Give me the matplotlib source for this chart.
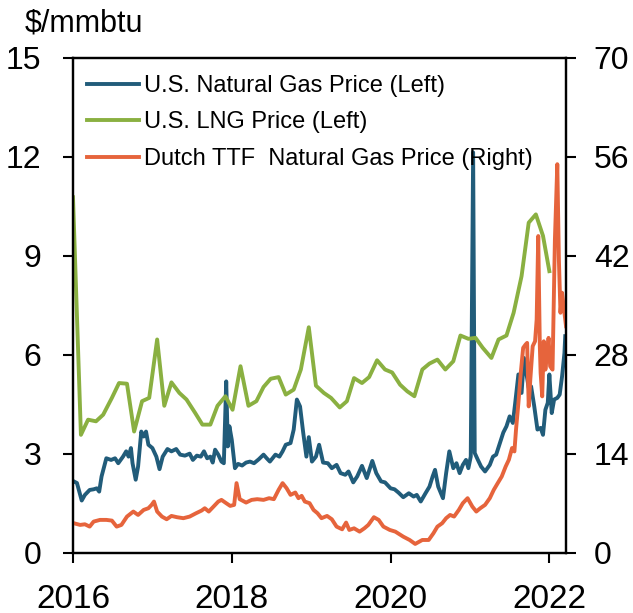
import matplotlib
matplotlib.use("Agg")
import matplotlib.pyplot as plt

# Yazı tipi: Arial benzeri
plt.rcParams['font.family'] = ['Liberation Sans Narrow', 'Liberation Sans', 'DejaVu Sans']

# -----------------------------------------
# Veriler (ondalık yıl, fiyat)
ng_years = [2016.01, 2016.05, 2016.11, 2016.15, 2016.21, 2016.26, 2016.30, 2016.33, 2016.36, 2016.42,
            2016.48, 2016.53, 2016.57, 2016.63, 2016.67, 2016.70, 2016.73, 2016.75, 2016.79, 2016.82,
            2016.86, 2016.89, 2016.92, 2016.95, 2017.00, 2017.05, 2017.09, 2017.13, 2017.19, 2017.24,
            2017.30, 2017.35, 2017.41, 2017.47, 2017.51, 2017.56, 2017.61, 2017.65, 2017.69, 2017.73,
            2017.76, 2017.79, 2017.83, 2017.87, 2017.90, 2017.93, 2017.95, 2017.97, 2018.00, 2018.04,
            2018.08, 2018.13, 2018.18, 2018.23, 2018.28, 2018.34, 2018.40, 2018.44, 2018.48, 2018.55,
            2018.60, 2018.64, 2018.68, 2018.74, 2018.78, 2018.82, 2018.86, 2018.90, 2018.94, 2018.97,
            2019.01, 2019.06, 2019.10, 2019.15, 2019.21, 2019.26, 2019.32, 2019.37, 2019.43, 2019.47,
            2019.53, 2019.58, 2019.64, 2019.70, 2019.77, 2019.82, 2019.88, 2019.93, 2020.00, 2020.05,
            2020.10, 2020.16, 2020.23, 2020.29, 2020.33, 2020.38, 2020.44, 2020.49, 2020.53, 2020.56,
            2020.60, 2020.66, 2020.70, 2020.74, 2020.79, 2020.83, 2020.87, 2020.91, 2020.95, 2020.98,
            2021.01, 2021.04, 2021.06, 2021.10, 2021.14, 2021.19, 2021.25, 2021.29, 2021.33, 2021.37,
            2021.42, 2021.46, 2021.50, 2021.54, 2021.57, 2021.61, 2021.65, 2021.68, 2021.71, 2021.74,
            2021.77, 2021.81, 2021.85, 2021.89, 2021.92, 2021.95, 2021.98, 2022.00, 2022.03, 2022.06,
            2022.10, 2022.13, 2022.16, 2022.19, 2022.20]
ng_price = [2.17, 2.12, 1.59, 1.76, 1.91, 1.93, 1.96, 1.86, 2.32, 2.87,
            2.82, 2.87, 2.72, 2.92, 3.08, 2.92, 3.18, 2.72, 2.22, 2.62,
            3.68, 3.53, 3.68, 3.28, 3.18, 2.92, 2.54, 2.92, 3.15, 3.08,
            3.15, 2.98, 2.95, 3.01, 2.82, 2.95, 2.92, 3.08, 2.87, 2.92,
            2.74, 3.13, 2.98, 2.77, 2.72, 5.20, 3.23, 3.84, 3.43, 2.57,
            2.70, 2.65, 2.74, 2.77, 2.72, 2.84, 2.98, 2.87, 2.77, 2.98,
            2.92, 3.08, 3.28, 3.33, 3.74, 4.65, 4.44, 3.64, 2.92, 3.51,
            2.77, 2.92, 3.28, 2.74, 2.72, 2.57, 2.67, 2.42, 2.37, 2.47,
            2.14, 2.32, 2.64, 2.27, 2.79, 2.42, 2.17, 2.14, 1.96, 1.93,
            1.83, 1.69, 1.81, 1.71, 1.76, 1.56, 1.81, 2.01, 2.32, 2.52,
            2.01, 1.66, 2.42, 3.08, 2.57, 2.72, 2.42, 2.67, 2.82, 2.57,
            2.92, 12.14, 3.03, 2.82, 2.62, 2.47, 2.67, 2.92, 2.98, 3.28,
            3.65, 3.84, 4.14, 3.94, 4.55, 5.41, 4.85, 5.91, 5.46, 5.00,
            5.05, 4.44, 3.74, 3.79, 3.58, 4.34, 4.55, 5.41, 4.24, 4.65,
            4.70, 4.80, 5.35, 6.06, 6.57]

lng_years = [2016.00, 2016.10, 2016.19, 2016.29, 2016.38, 2016.49, 2016.58, 2016.68, 2016.77, 2016.87,
             2016.96, 2017.06, 2017.15, 2017.24, 2017.34, 2017.43, 2017.54, 2017.63, 2017.73, 2017.82,
             2017.92, 2018.01, 2018.11, 2018.21, 2018.31, 2018.40, 2018.49, 2018.59, 2018.68, 2018.78,
             2018.87, 2018.97, 2019.06, 2019.16, 2019.25, 2019.36, 2019.45, 2019.54, 2019.64, 2019.73,
             2019.83, 2019.93, 2020.02, 2020.12, 2020.21, 2020.30, 2020.40, 2020.49, 2020.59, 2020.69,
             2020.79, 2020.88, 2020.98, 2021.07, 2021.16, 2021.27, 2021.36, 2021.46, 2021.55, 2021.65,
             2021.74, 2021.83, 2021.92, 2022.00]
lng_price = [10.78, 3.58, 4.04, 3.99, 4.19, 4.70, 5.15, 5.13, 3.68, 4.60,
             4.70, 6.47, 4.46, 5.17, 4.85, 4.65, 4.24, 3.89, 3.89, 4.46,
             4.75, 4.34, 5.66, 4.46, 4.60, 5.03, 5.28, 5.33, 4.80, 4.95,
             5.56, 6.84, 5.07, 4.85, 4.70, 4.41, 4.60, 5.30, 5.15, 5.33,
             5.84, 5.56, 5.47, 5.10, 4.90, 4.75, 5.56, 5.74, 5.86, 5.56,
             5.81, 6.59, 6.49, 6.52, 6.22, 5.91, 6.47, 6.59, 7.28, 8.39,
             10.01, 10.26, 9.61, 8.54]

ttf_years = [2016.01, 2016.09, 2016.15, 2016.21, 2016.26, 2016.34, 2016.42, 2016.49, 2016.55, 2016.61,
             2016.68, 2016.76, 2016.82, 2016.89, 2016.95, 2016.99, 2017.02, 2017.06, 2017.12, 2017.18,
             2017.24, 2017.31, 2017.39, 2017.47, 2017.55, 2017.62, 2017.66, 2017.71, 2017.77, 2017.83,
             2017.87, 2017.93, 2017.98, 2018.03, 2018.06, 2018.10, 2018.18, 2018.25, 2018.32, 2018.40,
             2018.47, 2018.53, 2018.59, 2018.64, 2018.69, 2018.74, 2018.80, 2018.84, 2018.88, 2018.92,
             2018.98, 2019.03, 2019.08, 2019.13, 2019.20, 2019.26, 2019.32, 2019.39, 2019.44, 2019.48,
             2019.54, 2019.61, 2019.67, 2019.72, 2019.79, 2019.85, 2019.91, 2019.99, 2020.06, 2020.16,
             2020.24, 2020.31, 2020.40, 2020.48, 2020.54, 2020.59, 2020.65, 2020.70, 2020.75, 2020.80,
             2020.86, 2020.91, 2020.97, 2021.03, 2021.08, 2021.13, 2021.19, 2021.25, 2021.30, 2021.35,
             2021.40, 2021.45, 2021.49, 2021.53, 2021.56, 2021.58, 2021.61, 2021.64, 2021.67, 2021.70,
             2021.72, 2021.74, 2021.76, 2021.79, 2021.82, 2021.84, 2021.86, 2021.88, 2021.89, 2021.91,
             2021.93, 2021.95, 2021.97, 2021.99, 2022.01, 2022.04, 2022.07, 2022.10, 2022.12, 2022.14,
             2022.16, 2022.18, 2022.21]
ttf_price = [4.21, 3.97, 4.06, 3.73, 4.44, 4.68, 4.68, 4.58, 3.73, 3.97,
             5.15, 5.86, 5.38, 6.09, 6.33, 6.80, 7.27, 5.86, 5.15, 4.77,
             5.24, 5.06, 4.92, 5.15, 5.62, 6.00, 6.33, 5.86, 6.56, 7.27,
             7.51, 7.04, 6.66, 6.80, 9.88, 7.61, 7.13, 7.51, 7.61, 7.51,
             7.75, 7.61, 8.93, 9.88, 9.17, 8.22, 8.55, 7.75, 8.08, 7.27,
             7.04, 6.09, 5.62, 4.92, 5.24, 4.77, 3.73, 3.35, 4.30, 3.26,
             3.49, 3.02, 3.49, 3.97, 5.06, 4.68, 3.73, 3.26, 3.02, 2.31,
             1.84, 1.28, 1.84, 1.84, 2.79, 3.73, 4.21, 4.92, 5.38, 5.15,
             6.09, 7.04, 7.75, 6.56, 5.86, 6.33, 6.80, 7.75, 8.93, 9.88,
             10.81, 12.23, 13.18, 14.84, 14.36, 17.43, 21.21, 25.46, 29.01, 29.47,
             29.71, 20.73, 24.51, 29.24, 29.94, 33.02, 44.82, 29.24, 25.46, 22.15,
             29.94, 25.93, 28.06, 30.42, 26.40, 25.93, 44.35, 54.98, 41.52, 33.97,
             36.80, 34.91, 32.07]

left_ticks = [0, 3, 6, 9, 12, 15]
right_ticks = [0, 14, 28, 42, 56, 70]
x_ticks = [2016, 2018, 2020, 2022]

# Renkler
c_ng = '#215c7a'
c_lng = '#8ab041'
c_ttf = '#e6643c'

# -----------------------------------------
fig = plt.figure(figsize=(6.33, 6.13), dpi=100)
ax = fig.add_axes([0.1153, 0.0979, 0.7789, 0.8075])
ax2 = ax.twinx()

l1, = ax.plot(ng_years, ng_price, color=c_ng, lw=2.8, label='U.S. Natural Gas Price (Left)')
l2, = ax.plot(lng_years, lng_price, color=c_lng, lw=2.8, label='U.S. LNG Price (Left)')
l3, = ax2.plot(ttf_years, ttf_price, color=c_ttf, lw=2.8, label='Dutch TTF  Natural Gas Price (Right)')

ax.set_xlim(2016, 2022.21)
ax.set_ylim(0, 15)
ax2.set_ylim(0, 70)
ax.set_xticks(x_ticks)
ax.set_xticklabels([str(t) for t in x_ticks])
ax.set_yticks(left_ticks)
ax2.set_yticks(right_ticks)

for a in (ax, ax2):
    for s in a.spines.values():
        s.set_linewidth(1.6)
    a.tick_params(direction='out', length=7, width=1.5, colors='black')
ax.tick_params(axis='y', labelsize=23, pad=16)
ax.tick_params(axis='x', labelsize=24, pad=15)
ax2.tick_params(axis='y', labelsize=23, pad=13)

fig.text(25 / 633, 1 - 31 / 613, '$/mmbtu', fontsize=22, va='baseline', ha='left')

ax2.legend(handles=[l1, l2, l3], loc='upper left', bbox_to_anchor=(0.01, 0.985),
           frameon=False, fontsize=17, handlelength=2.2, handletextpad=0.2,
           labelspacing=0.62, borderaxespad=0.0)

plt.savefig('out.png', dpi=100)
plt.close()
